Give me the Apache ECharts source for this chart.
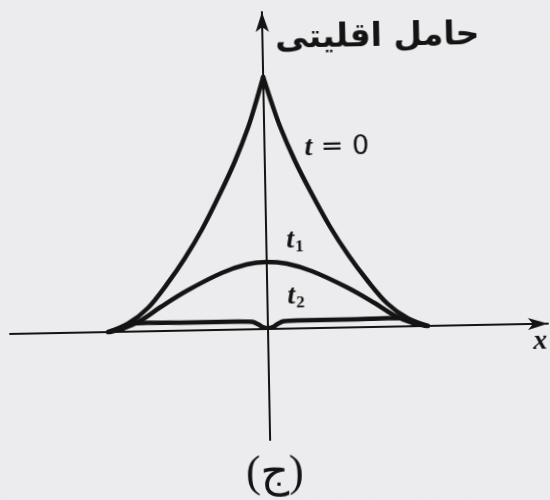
<!DOCTYPE html>
<html>
<head>
<meta charset="utf-8">
<script src="https://cdn.jsdelivr.net/npm/echarts@6/dist/echarts.min.js"></script>
<style>
  html, body { margin: 0; padding: 0; background: #ececee; overflow: hidden; }
  /* the printed figure sits a little askew on the page */
  #chart { width: 550px; height: 500px; transform: rotate(-1.1deg); transform-origin: 268px 329px; }
</style>
</head>
<body>
<div id="chart"></div>
<script>
// Carrier profile at successive times (distance from the injection point, x >= 0; mirrored for x < 0)
const t0X = [0, 0.08, 0.16, 0.30, 0.45, 0.64, 0.82, 1.00, 1.20, 1.40, 1.60];
const t0Y = [2.52, 2.26, 2.02, 1.68, 1.37, 1.01, 0.72, 0.47, 0.23, 0.08, 0];

const t1X = [0, 0.20, 0.45, 0.80, 1.07, 1.27, 1.45, 1.58];
const t1Y = [0.67, 0.65, 0.57, 0.40, 0.24, 0.11, 0.03, 0];

const t2X = [0, 0.05, 0.10, 0.16, 0.30, 0.80, 1.20, 1.38];
const t2Y = [0.01, 0.02, 0.05, 0.075, 0.08, 0.08, 0.085, 0.08];

const curveLabels = ['t = 0', 't₁', 't₂'];
const yAxisTitle = 'حامل اقلیتی';
const xAxisTitle = 'x';
const figureTag = '(ج)';

const ink = '#141414';

function half(xs, ys, sign) {
  return xs.map((x, i) => [sign * x, ys[i]]);
}
function full(xs, ys) {
  const left = half(xs, ys, -1).slice(1).reverse();
  return left.concat(half(xs, ys, 1));
}

const curveStyle = { color: ink, width: 4.5, cap: 'round', join: 'round' };
const tFont = 'italic bold 28px "Liberation Serif"';

const chart = echarts.init(document.getElementById('chart'), null, { renderer: 'canvas' });
chart.setOption({
  backgroundColor: '#ececee',
  animation: false,
  grid: { left: 10, right: 2, top: 12, bottom: 60 },
  xAxis: {
    type: 'value', min: -2.58, max: 2.80,
    axisLine: { onZero: true, symbol: ['none', 'arrow'], symbolSize: [9, 20],
      lineStyle: { color: ink, width: 2 } },
    axisTick: { show: false }, axisLabel: { show: false }, splitLine: { show: false }
  },
  yAxis: {
    type: 'value', min: -1.11, max: 3.17,
    axisLine: { onZero: true, symbol: ['none', 'arrow'], symbolSize: [10, 20],
      lineStyle: { color: ink, width: 2 } },
    axisTick: { show: false }, axisLabel: { show: false }, splitLine: { show: false }
  },
  series: [
    { type: 'line', data: half(t0X, t0Y, -1), smooth: 0.35, showSymbol: false, lineStyle: curveStyle },
    { type: 'line', data: half(t0X, t0Y, 1), smooth: 0.35, showSymbol: false, lineStyle: curveStyle },
    { type: 'line', data: full(t1X, t1Y), smooth: 0.35, showSymbol: false, lineStyle: curveStyle },
    { type: 'line', data: full(t2X, t2Y), smooth: 0.35, showSymbol: false, lineStyle: curveStyle }
  ],
  graphic: [
    { type: 'text',
      style: { x: 383, y: 39, text: yAxisTitle, align: 'center', verticalAlign: 'middle',
        font: 'bold 33px "DejaVu Sans"', fill: ink } },
    { type: 'text',
      style: { x: 308, y: 149, verticalAlign: 'middle', text: '{i|t} {e|=} 0',
        rich: { i: { font: tFont, fill: ink }, e: { font: '27px "DejaVu Sans"', fill: ink } },
        font: '27px "DejaVu Sans"', fill: ink } },
    { type: 'text',
      style: { x: 288, y: 241, verticalAlign: 'middle', text: '{i|t}{s|1}', rich: {
        i: { font: tFont, fill: ink },
        s: { font: 'bold 17px "Liberation Serif"', fill: ink, padding: [14, 0, 0, 1] } } } },
    { type: 'text',
      style: { x: 288, y: 297, verticalAlign: 'middle', text: '{i|t}{s|2}', rich: {
        i: { font: tFont, fill: ink },
        s: { font: 'bold 17px "Liberation Serif"', fill: ink, padding: [14, 0, 0, 1] } } } },
    { type: 'text',
      style: { x: 540, y: 347, align: 'center', verticalAlign: 'middle', text: xAxisTitle,
        font: 'italic bold 28px "Liberation Serif"', fill: ink } },
    { type: 'text',
      style: { x: 272, y: 474, align: 'center', verticalAlign: 'middle', text: figureTag,
        font: '44px "Liberation Serif", "DejaVu Sans"', fill: ink } }
  ]
});
</script>
</body>
</html>
